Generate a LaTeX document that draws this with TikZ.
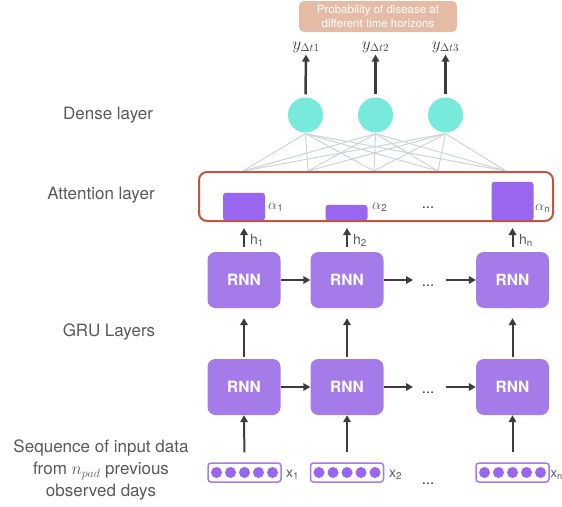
\documentclass[tikz,border=0pt]{standalone}
\usepackage{fontspec}
\setmainfont{TeX Gyre Heros}
\usetikzlibrary{arrows.meta}
\definecolor{rnncol}{HTML}{A47BE8}
\definecolor{barcol}{HTML}{9966F0}
\definecolor{dnscol}{HTML}{78EADC}
\definecolor{attnred}{HTML}{C4543F}
\definecolor{probcol}{HTML}{E5BBA5}
\definecolor{lblgray}{HTML}{595959}
\definecolor{arrcol}{HTML}{3C3C3C}
\definecolor{wirecol}{HTML}{C8D5D4}
\tikzset{
 lbl/.style={text=lblgray, font=\fontsize{17}{22}\selectfont, align=center, inner sep=0pt},
 rnnbox/.style={fill=rnncol, rounded corners=8pt, minimum width=73pt, minimum height=56pt, text=white, font=\bfseries\fontsize{15.5}{18}\selectfont, inner sep=0pt},
 arr/.style={draw=arrcol, line width=2pt, -{Triangle[length=7pt,width=7.5pt]}},
 densec/.style={circle, fill=dnscol, minimum size=35pt, inner sep=0pt},
 wireline/.style={draw=wirecol, line width=1pt},
 barbox/.style={fill=barcol, rounded corners=3pt, anchor=south, minimum width=42pt, inner sep=0pt},
 attnbox/.style={draw=attnred, line width=2pt, rounded corners=8pt, minimum width=354pt, minimum height=49pt, inner sep=0pt},
 inbox/.style={draw=rnncol, line width=1.5pt, rounded corners=3pt, fill=white, minimum width=73pt, minimum height=19pt, inner sep=0pt},
 indot/.style={circle, fill=barcol, minimum size=11pt, inner sep=0pt},
 sublbl/.style={text=lblgray, font=\fontsize{14}{16}\selectfont, anchor=west, inner sep=0pt},
 dotslbl/.style={text=arrcol, font=\fontsize{15}{16}\selectfont, inner sep=0pt},
 ylbl/.style={text=arrcol, font=\fontsize{16}{17}\selectfont, inner sep=1pt},
 probbox/.style={fill=probcol, rounded corners=5pt, minimum width=158pt, minimum height=31pt, text=white, font=\fontsize{11.5}{13.5}\selectfont, align=center, inner sep=0pt},
}
\begin{document}
\begin{tikzpicture}[x=1pt,y=-1pt]
\useasboundingbox (0,0) rectangle (562,506);
\clip (0,0) rectangle (562,506);

% left labels
\node[lbl] (ldense) at (108,115) {Dense layer};
\node[lbl] (lattn) at (101,195) {Attention layer};
\node[lbl] (lgru) at (109,332) {GRU Layers};
\node[lbl] (lseq) at (101,470) {Sequence of input data\\from $n_{pad}$ previous\\observed days};

% probability box
\node[probbox] (prob) at (378,16.5) {Probability of disease at\\different time horizons};

% outputs
\node[ylbl] (y1) at (306,47) {$y_{\Delta t1}$};
\node[ylbl] (y2) at (375.5,47) {$y_{\Delta t2}$};
\node[ylbl] (y3) at (445.5,47) {$y_{\Delta t3}$};

% dense circles
\node[densec] (d1) at (305.5,115) {};
\node[densec] (d2) at (375.5,115) {};
\node[densec] (d3) at (445.5,115) {};

\foreach \k in {1,2,3}{
  \draw[arr, line width=2.5pt, shorten <=3pt, shorten >=1pt] (d\k.north) -- (y\k.south);
}

% wires
\coordinate (w1) at (243,171);
\coordinate (w2) at (308,171);
\coordinate (w3) at (374,171);
\coordinate (w4) at (438,171);
\coordinate (w5) at (506,171);
\foreach \k in {1,2,3}{
  \foreach \j in {1,...,5}{
    \draw[wireline] ([yshift=-1pt]d\k.south) -- (w\j);
  }
}

% attention bars
\node[barbox, minimum height=28pt] (b1) at (244,221) {};
\node[barbox, minimum height=16pt] (b2) at (346.5,221) {};
\node[barbox, minimum height=39pt] (b3) at (512.5,221) {};
\node[attnbox] (attn) at (376,196.5) {};
\node[sublbl] (a1) at (268,207) {$\alpha$\textsubscript{1}};
\node[sublbl] (a2) at (372,207) {$\alpha$\textsubscript{2}};
\node[dotslbl] (adots) at (428,208) {...};
\node[sublbl] (a3) at (535,208) {$\alpha$\textsubscript{n}};

% RNN rows
\node[rnnbox] (r1) at (244,280) {RNN};
\node[rnnbox] (r2) at (347,280) {RNN};
\node[rnnbox] (r3) at (512.5,280) {RNN};
\node[rnnbox] (s1) at (244,387) {RNN};
\node[rnnbox] (s2) at (347,387) {RNN};
\node[rnnbox] (s3) at (512.5,387) {RNN};

\coordinate (re) at (413,280);
\coordinate (rs) at (446,280);
\coordinate (se) at (413,387);
\coordinate (ss) at (446,387);
\node[dotslbl] (rdots) at (428,286) {...};
\node[dotslbl] (sdots) at (428,393) {...};

\draw[arr] (r1.east) -- (r2.west);
\draw[arr] (r2.east) -- (re);
\draw[arr] (rs) -- (r3.west);
\draw[arr] (s1.east) -- (s2.west);
\draw[arr] (s2.east) -- (se);
\draw[arr] (ss) -- (s3.west);

% h arrows
\foreach \k in {1,2,3}{
  \draw[arr, shorten <=5pt, shorten >=6pt] (r\k.north) -- (r\k.north |- attn.south);
  \draw[arr, shorten <=2pt, shorten >=10pt] (s\k.north) -- (r\k.south);
}
\node[sublbl] (h1) at (250,240) {h\textsubscript{1}};
\node[sublbl] (h2) at (353,240) {h\textsubscript{2}};
\node[sublbl] (h3) at (519,240) {h\textsubscript{n}};

% inputs
\node[inbox] (i1) at (244.5,472.5) {};
\node[inbox] (i2) at (347,472.5) {};
\node[inbox] (i3) at (512.5,472.5) {};
\foreach \k in {1,2,3}{
  \foreach \m [count=\c] in {-28,-14,0,14,28}{
    \node[indot] (i\k d\c) at ([xshift=\m pt]i\k.center) {};
  }
  \draw[arr, shorten <=10pt] (i\k.north) -- (s\k.south);
}
\node[sublbl] (x1) at (286,475) {x\textsubscript{1}};
\node[sublbl] (x2) at (389,475) {x\textsubscript{2}};
\node[sublbl, font=\fontsize{13}{15}\selectfont] (x3) at (550.5,475) {x\textsubscript{n}};
\node[dotslbl] (idots) at (428,484) {...};
\end{tikzpicture}
\end{document}
